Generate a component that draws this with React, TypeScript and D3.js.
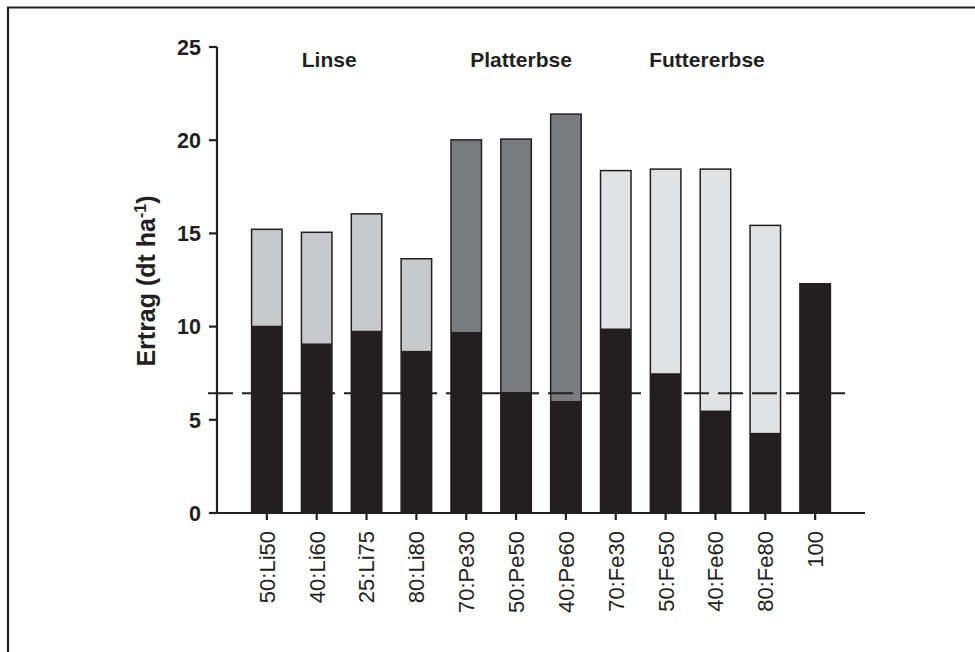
import React from "react";
import * as d3 from "d3";

const categories = ["50:Li50", "40:Li60", "25:Li75", "80:Li80", "70:Pe30", "50:Pe50", "40:Pe60", "70:Fe30", "50:Fe50", "40:Fe60", "80:Fe80", "100"];
const totals = [15.22, 15.06, 16.05, 13.64, 20.02, 20.06, 21.4, 18.37, 18.45, 18.45, 15.43, 12.3];
const blackPart = [10.05, 9.1, 9.78, 8.7, 9.72, 6.5, 6.02, 9.9, 7.5, 5.5, 4.3, 12.3];
const groupOf = ["Li", "Li", "Li", "Li", "Pe", "Pe", "Pe", "Fe", "Fe", "Fe", "Fe", "none"];
const groupKeys = ["Li", "Pe", "Fe", "none"];
const groupColors = ["#c8c9cb", "#7a7b7e", "#e1e2e4", "#231f20"];
const groupLabels = ["Linse", "Platterbse", "Futtererbse"];
const groupLabelPos = [2.25, 6.1, 9.83];
const yTicks = [0, 5, 10, 15, 20, 25];
const refLine = 6.42;

const W = 975;
const H = 652;
const INK = "#231f20";

export default function App() {
  const x = d3.scaleLinear().domain([0, 13]).range([217, 865]);
  const y = d3.scaleLinear().domain([0, 25]).range([513, 47]);
  const color = d3.scaleOrdinal<string, string>().domain(groupKeys).range(groupColors);
  const bw = 30.5;
  const font = "Arial, 'Liberation Sans', Helvetica, sans-serif";

  return (
    <svg width={W} height={H} style={{ position: "absolute", left: 0, top: 0, background: "#fff" }} fontFamily={font}>
      {/* frame */}
      <path d={`M8,${H} L8,7.5 L${W},7.5`} fill="none" stroke={INK} strokeWidth={2.2} />

      {/* bars */}
      {categories.map((c, i) => {
        const cx = x(i + 1);
        const top = y(totals[i]);
        const mid = y(blackPart[i]);
        const base = y(0);
        return (
          <g key={c}>
            <rect x={cx - bw / 2} y={top} width={bw} height={mid - top} fill={color(groupOf[i])} />
            <rect x={cx - bw / 2} y={mid} width={bw} height={base - mid} fill={INK} />
            <rect x={cx - bw / 2} y={top} width={bw} height={base - top} fill="none" stroke={INK} strokeWidth={1.5} />
          </g>
        );
      })}

      {/* dashed reference line */}
      <line x1={208} x2={848} y1={y(refLine)} y2={y(refLine)} stroke={INK} strokeWidth={2} strokeDasharray="25,9" />

      {/* y axis */}
      <line x1={217} x2={217} y1={y(25)} y2={y(0) + 1} stroke={INK} strokeWidth={2.2} />
      {yTicks.map((t) => (
        <g key={t}>
          <line x1={209} x2={217} y1={y(t)} y2={y(t)} stroke={INK} strokeWidth={2.2} />
          <text x={201} y={y(t)} dy="0.36em" textAnchor="end" fontSize={21.5} fontWeight="bold" fill={INK}>
            {t}
          </text>
        </g>
      ))}

      {/* x axis */}
      <line x1={216} x2={865} y1={y(0)} y2={y(0)} stroke={INK} strokeWidth={2.2} />
      {categories.map((c, i) => (
        <g key={"t" + c}>
          <line x1={x(i + 1)} x2={x(i + 1)} y1={y(0)} y2={y(0) + 7} stroke={INK} strokeWidth={2.2} />
          <text
            transform={`translate(${x(i + 1)},531) rotate(-90)`}
            dy="0.36em"
            textAnchor="end"
            fontSize={22}
            fill={INK}
          >
            {c}
          </text>
        </g>
      ))}

      {/* group labels */}
      {groupLabels.map((g, i) => (
        <text key={g} x={x(groupLabelPos[i])} y={67} textAnchor="middle" fontSize={21} fontWeight="bold" fill={INK}>
          {g}
        </text>
      ))}

      {/* y title */}
      <text transform={`translate(155,281) rotate(-90)`} textAnchor="middle" fontSize={25} fontWeight="bold" fill={INK}>
        Ertrag (dt ha
        <tspan dy={-9} fontSize={16}>-1</tspan>
        <tspan dy={9}>)</tspan>
      </text>
    </svg>
  );
}
